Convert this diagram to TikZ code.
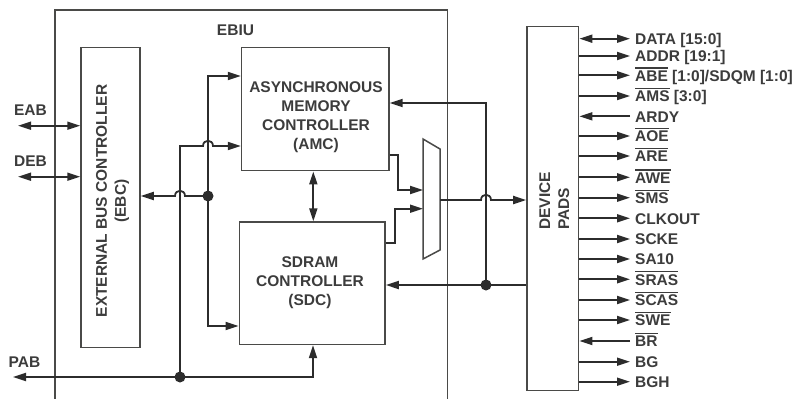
\documentclass[tikz,border=0pt]{standalone}
\usepackage{fontspec}
\setmainfont{Liberation Sans}
\usetikzlibrary{arrows.meta}
\definecolor{boxc}{HTML}{4A4A48}
\definecolor{linec}{HTML}{2C2C2C}
\definecolor{txtc}{HTML}{3C3C3C}
\newsavebox\ovbox
\newcommand\ovl[1]{\sbox\ovbox{#1}\rlap{\rule[\dimexpr\ht\ovbox+1.8pt\relax]{\wd\ovbox}{1.3pt}}\usebox\ovbox}
\tikzset{
  blk/.style={draw=boxc, line width=1.5pt, minimum width=#1, inner sep=0pt},
  conn/.style={draw=linec, line width=1.8pt},
  arr/.style={conn, -{Triangle[length=13pt,width=8pt]}},
  dbl/.style={conn, {Triangle[length=13pt,width=8pt]}-{Triangle[length=13pt,width=8pt]}},
  lbl/.style={text=txtc, font=\fontsize{15.5}{19}\selectfont\bfseries, inner sep=0pt, align=center},
  sig/.style={lbl, anchor=base west},
  dot/.style={fill=linec},
}
\newcommand\sigout[3]{\coordinate (#1) at (630,#2);
  \draw[arr] (pads.east |- #1) -- (#1);
  \node[sig] (#1t) at (635,#2+5.8) {#3};}
\newcommand\sigin[3]{\coordinate (#1) at (630,#2);
  \draw[arr] (#1) -- (pads.east |- #1);
  \node[sig] (#1t) at (635,#2+5.8) {#3};}
\begin{document}
\begin{tikzpicture}[x=1pt,y=-1pt]
\useasboundingbox (0,0) rectangle (798,399);
% EBIU frame (open at bottom)
\draw[boxc, line width=1.5pt] (55,399) -- (55,10) -- (447.7,10) -- (447.7,399);
\node[lbl] (ebiu) at (235.5,30.7) {EBIU};
% blocks
\node[blk=59pt, minimum height=299.6pt] (ebc) at (110.5,197.5) {};
\node[blk=147.3pt, minimum height=123pt] (amc) at (315.3,109.2) {};
\node[blk=145.7pt, minimum height=122.3pt] (sdc) at (312.2,283.2) {};
\node[blk=51.7pt, minimum height=364pt] (pads) at (552.8,208.7) {};
\node[lbl, rotate=90] (ebct) at (112.5,201) {EXTERNAL BUS CONTROLLER\\(EBC)};
\node[lbl] (amct) at (316,116.7) {ASYNCHRONOUS\\MEMORY\\CONTROLLER\\(AMC)};
\node[lbl] (sdct) at (310,282.3) {SDRAM\\CONTROLLER\\(SDC)};
\node[lbl, rotate=90, align=left, anchor=west] (padst) at (554.2,230) {DEVICE\\PADS};
% mux
\draw[boxc, line width=1.5pt] (423,139) -- (440,149) -- (440,250) -- (423,259) -- cycle;
\coordinate (muxo) at (440,200);
\coordinate (muxa) at (423,190);
\coordinate (muxb) at (423,208.7);
% left side buses
\coordinate (eab) at (18,125.7);
\coordinate (deb) at (18,176.7);
\coordinate (pab) at (13,377);
\node[lbl] (eabt) at (30.5,110) {EAB};
\node[lbl] (debt) at (30.5,161) {DEB};
\node[lbl] (pabt) at (24.5,361.7) {PAB};
\draw[dbl] (eab) -- (ebc.west |- eab);
\draw[dbl] (deb) -- (ebc.west |- deb);
% junctions
\coordinate (j1) at (208,196);
\coordinate (j2) at (180,377);
\coordinate (j3) at (486,285);
% j1 branches
\draw[arr] (j1) -- (185,196) .. controls (185,189) and (175,189) .. (175,196) -- (ebc.east |- j1);
\draw[arr] (j1) -- (208,76) -- (amc.west |- 0,76);
\draw[arr] (j1) -- (208,326) -- (sdc.west |- 0,326);
% j2 branches
\draw[arr] (j2) -- (180,146) -- (203,146) .. controls (203,139) and (213,139) .. (213,146) -- (amc.west |- 0,146);
\draw[arr] (j2) -- (pab);
\draw[arr] (j2) -- (313,377) -- (sdc.south -| 313,0);
% AMC <-> SDC
\draw[dbl] (amc.south -| 313.3,0) -- (sdc.north -| 313.3,0);
% to mux
\draw[arr] (amc.east |- 0,155) -- (397.7,155) -- (397.7,190) -- (muxa);
\draw[arr] (sdc.east |- 0,243.3) -- (395,243.3) -- (395,208.7) -- (muxb);
\draw[arr] (muxo) -- (481,200) .. controls (481,193) and (491,193) .. (491,200) -- (pads.west |- muxo);
% pads back to controllers
\draw[arr] (pads.west |- j3) -- (sdc.east |- j3);
\draw[arr] (j3) -- (486,103) -- (amc.east |- 0,103);
\fill[dot] (j1) circle (5.5pt);
\fill[dot] (j2) circle (5.5pt);
\fill[dot] (j3) circle (5.5pt);
% right signals
\coordinate (sdata) at (630,38.7);
\draw[dbl] (pads.east |- sdata) -- (sdata);
\node[sig] (sdatat) at (635,38.7+5.8) {DATA [15:0]};
\sigout{saddr}{56}{ADDR [19:1]}
\sigout{sabe}{75.3}{\ovl{ABE} [1:0]/SDQM [1:0]}
\sigout{sams}{96}{\ovl{AMS} [3:0]}
\sigin{sardy}{116.3}{ARDY}
\sigout{saoe}{136}{\ovl{AOE}}
\sigout{sare}{156}{\ovl{ARE}}
\sigout{sawe}{177.3}{\ovl{AWE}}
\sigout{ssms}{197.7}{\ovl{SMS}}
\sigout{sclk}{218.3}{CLKOUT}
\sigout{scke}{239}{SCKE}
\sigout{ssa}{259}{SA10}
\sigout{sras}{279.3}{\ovl{SRAS}}
\sigout{scas}{300}{\ovl{SCAS}}
\sigout{sswe}{320}{\ovl{SWE}}
\sigin{sbr}{341}{\ovl{BR}}
\sigout{sbg}{361.7}{BG}
\sigout{sbgh}{381.7}{BGH}
\end{tikzpicture}
\end{document}
